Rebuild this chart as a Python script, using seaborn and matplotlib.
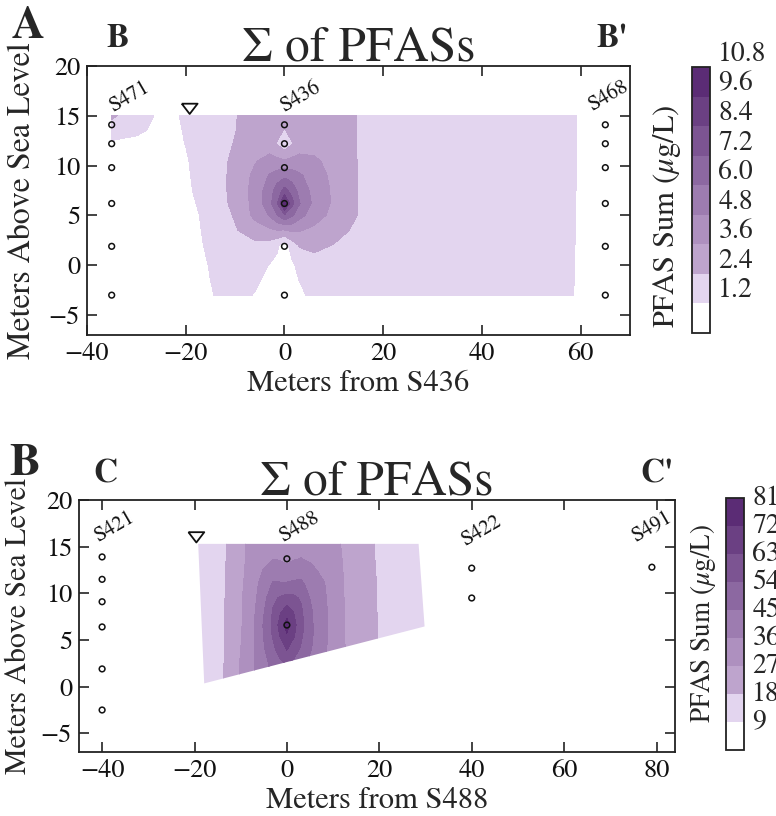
import numpy as np
import pandas as pd
import matplotlib
matplotlib.use("Agg")
import matplotlib.pyplot as plt
from matplotlib.colors import ListedColormap, BoundaryNorm
from matplotlib.patches import Polygon
import seaborn as sns

# ------------------------------------------------------------------ data
levels_a = [0, 1.2, 2.4, 3.6, 4.8, 6.0, 7.2, 8.4, 9.6, 10.8]
levels_b = [0, 9, 18, 27, 36, 45, 54, 63, 72, 81]

wells_a = ["S471", "S436", "S468"]
wells_a_x = [-35, 0, 65]
samples_a_elev = [14.1, 12.2, 9.8, 6.2, 1.9, -3.0]

wells_b = ["S421", "S488", "S422", "S491"]
wells_b_x = [-40, 0, 40, 79]
samples_b_elev = [[13.9, 11.5, 9.1, 6.4, 1.9, -2.5], [13.7, 6.6], [12.7, 9.5], [12.8]]

water_table_a = (-19.2, 15.7)
water_table_b = (-19.6, 16.0)

# PFAS sum section (rows: elevation, cols: distance)
grid_a_x = [-35, -30, -25, -20, -15, -10, -6, -3, -1.5, 0, 1.5, 3, 6, 10, 15, 20, 40, 58, 61, 65]
grid_a_y = [-3, 0, 2, 3.5, 5, 6.2, 7.5, 9, 10.5, 12.2, 13.5, 15]
grid_a_val = [
    [0.8, 0.75, 0.7, 0.9, 1.15, 1.5, 1.15, 0.8, 0.6, 0.5, 0.7, 0.95, 1.5, 1.8, 1.8, 1.8, 1.8, 1.25, 1.0, 0.9],
    [0.8, 0.75, 0.7, 0.7, 1.25, 1.7, 1.6, 1.15, 0.9, 0.6, 1.0, 1.5, 1.9, 2.0, 1.9, 1.9, 1.8, 1.27, 1.0, 0.9],
    [0.8, 0.75, 0.7, 0.7, 1.4, 2.0, 2.1, 1.9, 1.4, 0.6, 1.7, 2.5, 2.7, 2.35, 2.0, 2.1, 1.8, 1.28, 1.0, 0.9],
    [0.8, 0.75, 0.7, 0.7, 1.5, 2.3, 3.0, 3.4, 3.55, 3.5, 3.8, 3.7, 3.3, 2.9, 2.1, 2.1, 1.8, 1.29, 1.0, 0.9],
    [0.8, 0.75, 0.7, 0.7, 1.6, 2.5, 3.9, 4.9, 5.9, 7.0, 6.2, 5.2, 4.2, 3.2, 2.35, 2.1, 1.8, 1.3, 1.0, 0.9],
    [0.8, 0.75, 0.7, 0.7, 1.9, 2.6, 4.0, 5.6, 7.1, 10.2, 7.6, 6.1, 4.5, 3.4, 2.35, 2.1, 1.8, 1.3, 1.0, 0.9],
    [0.8, 0.75, 0.7, 0.9, 2.0, 2.6, 4.1, 5.4, 6.6, 7.6, 6.8, 5.6, 4.4, 3.4, 2.35, 2.1, 1.8, 1.31, 1.0, 0.9],
    [0.8, 0.75, 0.7, 1.0, 2.0, 2.6, 3.9, 4.9, 5.3, 5.7, 5.4, 5.0, 4.2, 3.3, 2.35, 2.1, 1.8, 1.31, 1.0, 0.9],
    [0.8, 0.75, 0.7, 1.1, 1.9, 2.6, 3.5, 4.0, 3.9, 3.7, 3.9, 4.0, 3.8, 3.2, 2.35, 2.1, 1.8, 1.32, 1.0, 0.9],
    [1.0, 0.9, 0.8, 1.22, 1.9, 2.45, 2.9, 3.0, 2.3, 1.6, 2.3, 3.0, 3.1, 3.0, 2.35, 2.1, 1.8, 1.32, 1.0, 0.9],
    [1.8, 1.4, 0.9, 1.25, 1.8, 2.38, 2.8, 3.0, 2.8, 2.3, 2.8, 3.0, 3.0, 2.9, 2.35, 2.1, 1.8, 1.33, 1.0, 0.9],
    [2.6, 1.7, 1.0, 1.27, 1.8, 2.35, 2.8, 3.0, 3.0, 3.0, 3.0, 3.0, 3.0, 2.9, 2.35, 2.1, 1.8, 1.33, 1.0, 0.9],
]

# PFAS sum section
grid_b_x = [-20, -15, -11, -8, -5, -3, -1.5, 0, 1.5, 3, 5, 8, 11, 14, 18, 22, 30]
grid_b_y = [0, 2.5, 4, 5.5, 6.6, 8, 9.5, 11, 12.5, 13.7, 15.3]
grid_b_val = [
    [11, 14.5, 25, 33, 40, 45, 48, 50, 48, 46, 41, 36.5, 31, 24, 19.5, 16, 13],
    [11, 14.3, 25, 33, 42, 48, 52, 55, 52, 49, 43, 37, 30.5, 24, 19.5, 16, 13],
    [11, 14, 24.5, 32, 44, 52, 58, 63.5, 58, 53, 46, 37.5, 30.5, 24, 19.5, 16, 13],
    [11, 14, 24, 31.5, 45.5, 55, 63.5, 71, 64, 56, 47, 38, 30, 24, 19.3, 16, 13],
    [11, 14, 24, 31, 46, 56, 66, 76, 66, 57, 47, 38, 30, 24, 19.3, 16, 13],
    [11, 14, 24, 31, 44.5, 55, 62, 68, 62.5, 56, 46.5, 38, 30, 24, 19.2, 16, 13],
    [11, 14, 24, 30.5, 42, 52, 55, 57, 56, 53, 44.8, 37.5, 29.5, 24, 19.1, 16, 13],
    [11, 14, 23.5, 30, 40, 46, 46, 46, 47, 47, 42, 36.5, 29, 24.2, 19, 16, 13],
    [11, 14, 23, 29.5, 36.5, 40, 39, 38, 39.5, 41, 38, 34, 28.5, 24.5, 18.9, 16, 13],
    [11, 13.8, 23, 29, 33.5, 35.8, 35.5, 34, 35.5, 36.2, 35, 31.5, 28, 24.8, 18.7, 16, 13],
    [11, 13.6, 23, 28.7, 31, 33, 33, 33, 33, 33.5, 32.5, 30, 27.5, 25, 18.6, 16, 13],
]
section_b_outline = [(-19.2, 15.3), (28.5, 15.3), (29.8, 6.45), (-17.9, 0.35)]

# ------------------------------------------------------------------ style
sns.set_theme(style="ticks")
plt.rcParams["font.family"] = ["STIXGeneral", "DejaVu Serif"]
plt.rcParams["mathtext.fontset"] = "stix"
plt.rcParams["axes.unicode_minus"] = True

colors = ["#ffffff", "#e3d5ef"] + sns.blend_palette(["#bea4cd", "#5b2c75"], 7)
cmap = ListedColormap(colors)

W, H = 776, 816
fig = plt.figure(figsize=(W / 100, H / 100), dpi=100)


def fx(px):
    return px / W


def fy(py):
    return 1 - py / H


ax1 = fig.add_axes([fx(87), fy(335), (630 - 87) / W, (335 - 66) / H])
cax1 = fig.add_axes([fx(692), fy(333), 18 / W, (333 - 67) / H])
ax2 = fig.add_axes([fx(79), fy(752), (675 - 79) / W, (752 - 500) / H])
cax2 = fig.add_axes([fx(726), fy(750), 18 / W, (750 - 498) / H])

tri_marker = [(-1, 0.65), (1, 0.65), (0, -0.65), (-1, 0.65)]


def panel(ax, cax, gx, gy, gv, levels, wells, wx, welev, wt, xlim, xticks,
          xlabel, lab_pos, sec_letters, sec_x, outline, fmt, cb_va, ylab_xy,
          ylab_size, cb_lab_size, cb_lab_xy):
    norm = BoundaryNorm(levels, cmap.N)
    cs = ax.contourf(np.array(gx), np.array(gy), np.array(gv), levels=levels,
                     cmap=cmap, norm=norm, zorder=1)
    if outline is not None:
        patch = Polygon(outline, closed=True, transform=ax.transData,
                        facecolor="none", edgecolor="none")
        cs.set_clip_path(patch)

    rows = []
    for name, x, el in zip(wells, wx, welev):
        for e in el:
            rows.append({"well": name, "dist": x, "elev": e})
    df = pd.DataFrame(rows)
    ax.scatter(df["dist"], df["elev"], s=17, facecolors="none",
               edgecolors="#111111", linewidths=1.1, zorder=5)
    ax.scatter([wt[0]], [wt[1]], marker=tri_marker, s=130, facecolors="none",
               edgecolors="#111111", linewidths=1.3, zorder=5)

    for name, (lx, ly) in zip(wells, lab_pos):
        ax.text(lx, ly, name, rotation=30, ha="center", va="center",
                fontsize=15, color="#111111", zorder=6)

    ax.set_xlim(*xlim)
    ax.set_ylim(-7, 20)
    ax.set_xticks(xticks)
    ax.set_yticks([-5, 0, 5, 10, 15, 20])
    ax.minorticks_off()
    ax.tick_params(direction="in", length=7, width=1.1, top=True, right=True,
                   labelsize=19, colors="#111111", pad=5)
    for sp in ax.spines.values():
        sp.set_visible(True)
        sp.set_linewidth(1.3)
        sp.set_color("#222222")
    ax.set_xlabel(xlabel, fontsize=22, labelpad=3)
    ax.set_ylabel("Meters Above Sea Level", fontsize=ylab_size)
    ax.yaxis.set_label_coords(*ylab_xy)
    ax.set_title("Σ of PFASs", fontsize=35.5, pad=4)
    for lt, lxp in zip(sec_letters, sec_x):
        ax.text(lxp, 1.071, lt, transform=ax.transAxes,
                ha="center", va="baseline", fontsize=24, fontweight="bold")

    cb = fig.colorbar(cs, cax=cax, ticks=levels[1:], format=fmt)
    cb.outline.set_linewidth(1.3)
    cb.outline.set_edgecolor("#222222")
    cax.minorticks_off()
    cax.tick_params(which="both", length=0, labelsize=20, pad=6)
    for t in cax.get_yticklabels():
        t.set_va(cb_va)
    cb.set_label(r"PFAS Sum ($\mu$g/L)", fontsize=cb_lab_size)
    cax.yaxis.set_label_position("left")
    cax.yaxis.set_label_coords(*cb_lab_xy)
    return cs


panel(ax1, cax1, grid_a_x, grid_a_y, grid_a_val, levels_a, wells_a, wells_a_x,
      [samples_a_elev] * len(wells_a), water_table_a, (-40, 70),
      [-40, -20, 0, 20, 40, 60], "Meters from S436",
      [(-31.4, 16.9), (3.1, 16.9), (65.6, 17.0)], ("B", "B'"), (0.056, 0.967),
      None, "%.1f", "bottom", (-0.092, 0.5), 23, 22, (-0.5, 0.44))

panel(ax2, cax2, grid_b_x, grid_b_y, grid_b_val, levels_b, wells_b, wells_b_x,
      samples_b_elev, water_table_b, (-45, 84),
      [-40, -20, 0, 20, 40, 60, 80], "Meters from S488",
      [(-37.4, 17.1), (2.7, 17.1), (42.0, 16.7), (78.9, 17.1)], ("C", "C'"),
      (0.044, 0.97), section_b_outline, "%d", "center", (-0.077, 0.5),
      21.5, 19.5, (-0.45, 0.5))

fig.text(fx(12), fy(38), "A", fontsize=33, fontweight="bold", ha="left", va="baseline")
fig.text(fx(9), fy(475), "B", fontsize=33, fontweight="bold", ha="left", va="baseline")

fig.savefig("out.png", dpi=100)
